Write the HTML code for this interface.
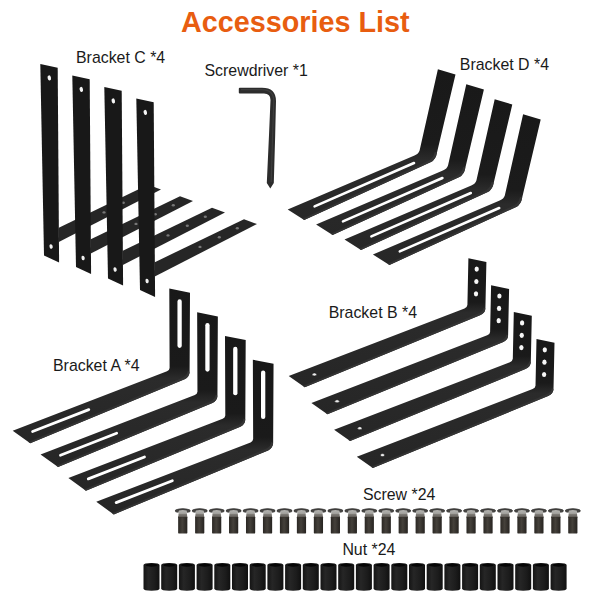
<!DOCTYPE html>
<html><head><meta charset="utf-8"><title>Accessories List</title>
<style>
html,body{margin:0;padding:0;background:#fff;}
body{width:600px;height:600px;overflow:hidden;font-family:"Liberation Sans",sans-serif;}
svg{display:block}
text{font-family:"Liberation Sans",sans-serif;fill:#1a1a1a}
</style></head><body>
<svg width="600" height="600" viewBox="0 0 600 600">
<defs>
<linearGradient id="gu" x1="0" y1="0" x2="1" y2="0"><stop offset="0" stop-color="#161616"/><stop offset="1" stop-color="#1e1e1e"/></linearGradient>
<linearGradient id="ga" x1="0" y1="0" x2="0" y2="1"><stop offset="0" stop-color="#262626"/><stop offset="1" stop-color="#1c1c1c"/></linearGradient>
<linearGradient id="gD" gradientUnits="userSpaceOnUse" x1="0" y1="69" x2="0" y2="220"><stop offset="0" stop-color="#191919"/><stop offset=".5" stop-color="#1b1b1b"/><stop offset=".6" stop-color="#2b2b2b"/><stop offset="1" stop-color="#272727"/></linearGradient>
<linearGradient id="gA" gradientUnits="userSpaceOnUse" x1="0" y1="288" x2="0" y2="444"><stop offset="0" stop-color="#181818"/><stop offset=".5" stop-color="#1a1a1a"/><stop offset=".58" stop-color="#2b2b2b"/><stop offset="1" stop-color="#262626"/></linearGradient>
<linearGradient id="gB" gradientUnits="userSpaceOnUse" x1="0" y1="258" x2="0" y2="388"><stop offset="0" stop-color="#181818"/><stop offset=".34" stop-color="#1a1a1a"/><stop offset=".42" stop-color="#2b2b2b"/><stop offset="1" stop-color="#262626"/></linearGradient>
<linearGradient id="gnut" x1="0" y1="0" x2="1" y2="0"><stop offset="0" stop-color="#141414"/><stop offset=".3" stop-color="#262626"/><stop offset=".7" stop-color="#1c1c1c"/><stop offset="1" stop-color="#101010"/></linearGradient>
<linearGradient id="gsh" x1="0" y1="0" x2="1" y2="0"><stop offset="0" stop-color="#2a2723"/><stop offset=".45" stop-color="#45413b"/><stop offset="1" stop-color="#262320"/></linearGradient>
<linearGradient id="gnk" x1="0" y1="0" x2="0" y2="1"><stop offset="0" stop-color="#b4b4b1"/><stop offset=".45" stop-color="#a3a29e"/><stop offset=".6" stop-color="#7b7873"/><stop offset=".85" stop-color="#6a6661"/><stop offset="1" stop-color="#38342f"/></linearGradient>

<g id="bc">
<polygon points="154.8,262.2 244.0,219.2 257.0,224.0 154.8,276.5" fill="#262626"/>
<ellipse cx="200" cy="246.9" rx="1.6" ry="1.2" fill="#777"/>
<ellipse cx="219.3" cy="237.2" rx="1.6" ry="1.2" fill="#777"/>
<ellipse cx="237.3" cy="228.2" rx="1.6" ry="1.2" fill="#777"/>
<polygon points="136.3,98.6 153.7,102.2 155.1,296.9 140.0,290.0" fill="#181818"/>
<ellipse cx="145.3" cy="112.4" rx="1.7" ry="2.6" transform="rotate(-14 145.3 112.4)" fill="#f4f4f4"/>
<ellipse cx="147.1" cy="281" rx="1.6" ry="2.3" transform="rotate(-14 147.1 281)" fill="#f0f0f0"/>
</g>
<g id="bd">
<path d="M437.9,69.2 L455.5,74.5 L437,152.5 Q435.8,159.6 431,162 L304.2,219.9 L287.7,209.4 L414.5,155.6 Q418.6,153.8 419.6,150.5 Z" fill="url(#gD)"/>
<path d="M437,152.5 Q435.8,159.6 431,162 L304.2,219.9 L302.5,218.8 L429,160.4 Q433.4,158.2 434.8,152 Z" fill="#343434"/>
<line x1="314.6" y1="206.4" x2="414" y2="163" stroke="#fff" stroke-width="2.6" stroke-linecap="round"/>
</g>
<g id="ba">
<path d="M169.3,288.6 L190,292.7 L189.6,372 Q189.4,377 184.6,379.3 L30.2,443.3 L12.7,430.7 L167,371.3 Q169.4,370.3 169.6,368 Z" fill="url(#gA)"/>
<path d="M189.6,372 Q189.4,377 184.6,379.3 L30.2,443.3 L28.5,442.1 L183,377.5 Q187.3,375.4 187.8,371 Z" fill="#343434"/>
<line x1="179.6" y1="301.5" x2="179.6" y2="345.8" stroke="#fff" stroke-width="4.3" stroke-linecap="round"/>
<line x1="32.6" y1="431.5" x2="88.8" y2="409.6" stroke="#fff" stroke-width="2.8" stroke-linecap="round"/>
</g>
<g id="bb">
<path d="M468.4,258.3 L486.4,262 L485.4,308.5 Q485.2,313 480,315.3 L304.7,387.3 L288.7,376 L464.5,308.4 Q467.2,307.3 467.4,305 Z" fill="url(#gB)"/>
<path d="M485.4,308.5 Q485.2,313 480,315.3 L304.7,387.3 L303.1,386.1 L478.6,313.6 Q483.2,311.5 483.7,307.5 Z" fill="#343434"/>
<ellipse cx="476.7" cy="269.1" rx="2.15" ry="2.6" fill="#f6f6f6"/>
<ellipse cx="476.35" cy="281.5" rx="2.15" ry="2.6" fill="#f6f6f6"/>
<ellipse cx="476" cy="293.8" rx="2.15" ry="2.6" fill="#f6f6f6"/>
<ellipse cx="314.4" cy="374.4" rx="2.2" ry="1.5" fill="#ececec" stroke="#111" stroke-width=".5"/>
</g>
<g id="nut">
<path d="M-8,2 L-8,25.5 Q-8,27.7 0,27.7 Q8,27.7 8,25.5 L8,2 Q8,0 0,0 Q-8,0 -8,2 Z" fill="url(#gnut)"/>
<ellipse cx="0" cy="2.1" rx="5.8" ry="1.7" fill="#050505"/>
</g>
<g id="scr">
<rect x="-4.6" y="7.5" width="9.2" height="17.6" rx="1.2" fill="url(#gsh)"/>
<path d="M-3.9,1.6 L3.9,1.6 L4.5,9 L-4.5,9 Z" fill="url(#gnk)"/>
<path d="M-7.9,2.6 Q-7.9,1.1 -4,0.45 Q0,-0.25 4,0.45 Q7.9,1.1 7.9,2.6 Q7.7,4 4.4,4.3 L3.7,1.9 Q0,1.3 -3.7,1.9 L-4.4,4.3 Q-7.7,4 -7.9,2.6 Z" fill="#464543"/>
<path d="M-7.6,2.1 Q-7.2,1.1 -4,0.6 Q0,-0.1 4,0.6 Q7.2,1.1 7.6,2.1" fill="none" stroke="#2b2a28" stroke-width=".7"/>
</g>
</defs>
<rect width="600" height="600" fill="#fff"/>
<text x="0" y="0" text-anchor="middle" font-size="28.75" font-weight="700" transform="translate(295.3,31.8) scale(1,1.032)" style="fill:#e85d10">Accessories List</text>
<text x="76.0" y="63.2" font-size="15.9">Bracket C *4</text>
<text x="204.5" y="75.7" font-size="15.9">Screwdriver *1</text>
<text x="459.8" y="69.7" font-size="15.9">Bracket D *4</text>
<text x="53.0" y="370.5" font-size="15.9">Bracket A *4</text>
<text x="328.7" y="317.5" font-size="15.9">Bracket B *4</text>
<text x="362.9" y="499.5" font-size="15.9">Screw *24</text>
<text x="342.4" y="555.4" font-size="15.9">Nut *24</text>
<use href="#bc" transform="translate(-96.0,-34.5)"/>
<use href="#bc" transform="translate(-64.0,-23.0)"/>
<use href="#bc" transform="translate(-32.0,-11.5)"/>
<use href="#bc" transform="translate(0.0,-0.0)"/>
<path d="M238.8,88.7 Q238.8,87.7 239.8,87.7 L262,87.7 Q276,87.7 276,101 L275.2,135 L273.8,183 L270.3,188.5 L266.8,183 L269,135 L270.5,100 Q270.5,93.5 264,93.5 L239.8,93.5 Q238.8,93.5 238.8,92.5 Z" fill="#2c2c2c"/>
<path d="M241,89.6 L262,89.6 Q273.6,89.8 273.8,101 L272.6,135 L271.2,182" fill="none" stroke="#3d3d3d" stroke-width="1.2"/>
<use href="#bd" transform="translate(0.0,0.0)"/>
<use href="#bd" transform="translate(28.4,15.0)"/>
<use href="#bd" transform="translate(56.8,30.0)"/>
<use href="#bd" transform="translate(85.2,45.0)"/>
<use href="#ba" transform="translate(0.00,0.00)"/>
<use href="#ba" transform="translate(27.85,23.70)"/>
<use href="#ba" transform="translate(55.70,47.40)"/>
<use href="#ba" transform="translate(83.55,71.10)"/>
<use href="#bb" transform="translate(0.0,0.0)"/>
<use href="#bb" transform="translate(22.7,26.9)"/>
<use href="#bb" transform="translate(45.4,53.8)"/>
<use href="#bb" transform="translate(68.1,80.7)"/>
<use href="#scr" transform="translate(182.75,508.5)"/>
<use href="#scr" transform="translate(199.71,508.5)"/>
<use href="#scr" transform="translate(216.67,508.5)"/>
<use href="#scr" transform="translate(233.63,508.5)"/>
<use href="#scr" transform="translate(250.59,508.5)"/>
<use href="#scr" transform="translate(267.55,508.5)"/>
<use href="#scr" transform="translate(284.51,508.5)"/>
<use href="#scr" transform="translate(301.47,508.5)"/>
<use href="#scr" transform="translate(318.43,508.5)"/>
<use href="#scr" transform="translate(335.39,508.5)"/>
<use href="#scr" transform="translate(352.35,508.5)"/>
<use href="#scr" transform="translate(369.31,508.5)"/>
<use href="#scr" transform="translate(386.27,508.5)"/>
<use href="#scr" transform="translate(403.23,508.5)"/>
<use href="#scr" transform="translate(420.19,508.5)"/>
<use href="#scr" transform="translate(437.15,508.5)"/>
<use href="#scr" transform="translate(454.11,508.5)"/>
<use href="#scr" transform="translate(471.07,508.5)"/>
<use href="#scr" transform="translate(488.03,508.5)"/>
<use href="#scr" transform="translate(504.99,508.5)"/>
<use href="#scr" transform="translate(521.95,508.5)"/>
<use href="#scr" transform="translate(538.91,508.5)"/>
<use href="#scr" transform="translate(555.87,508.5)"/>
<use href="#scr" transform="translate(572.83,508.5)"/>
<use href="#nut" transform="translate(151.50,563)"/>
<use href="#nut" transform="translate(169.20,563)"/>
<use href="#nut" transform="translate(186.90,563)"/>
<use href="#nut" transform="translate(204.60,563)"/>
<use href="#nut" transform="translate(222.30,563)"/>
<use href="#nut" transform="translate(240.00,563)"/>
<use href="#nut" transform="translate(257.70,563)"/>
<use href="#nut" transform="translate(275.40,563)"/>
<use href="#nut" transform="translate(293.10,563)"/>
<use href="#nut" transform="translate(310.80,563)"/>
<use href="#nut" transform="translate(328.50,563)"/>
<use href="#nut" transform="translate(346.20,563)"/>
<use href="#nut" transform="translate(363.90,563)"/>
<use href="#nut" transform="translate(381.60,563)"/>
<use href="#nut" transform="translate(399.30,563)"/>
<use href="#nut" transform="translate(417.00,563)"/>
<use href="#nut" transform="translate(434.70,563)"/>
<use href="#nut" transform="translate(452.40,563)"/>
<use href="#nut" transform="translate(470.10,563)"/>
<use href="#nut" transform="translate(487.80,563)"/>
<use href="#nut" transform="translate(505.50,563)"/>
<use href="#nut" transform="translate(523.20,563)"/>
<use href="#nut" transform="translate(540.90,563)"/>
<use href="#nut" transform="translate(558.60,563)"/>
</svg></body></html>
